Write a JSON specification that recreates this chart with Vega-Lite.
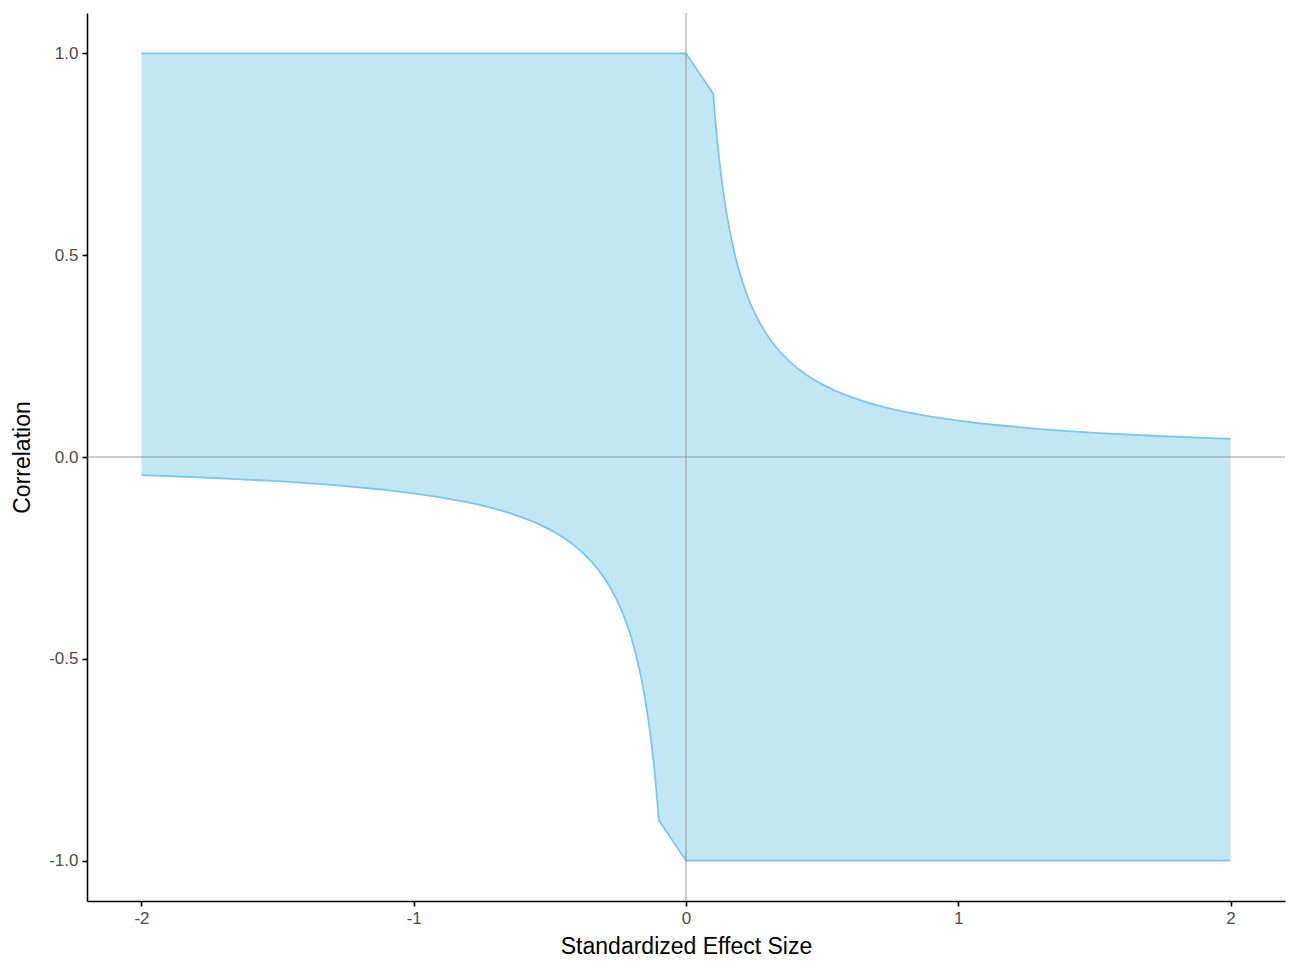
{
  "$schema": "https://vega.github.io/schema/vega-lite/v6.json",
  "background": "white",
  "autosize": {"type": "none"},
  "padding": {"left": 87, "top": 13, "right": 14, "bottom": 73},
  "width": 1198,
  "height": 888,
  "config": {
    "view": {"stroke": null},
    "font": "Liberation Sans",
    "axis": {
      "grid": false,
      "domainColor": "black",
      "domainWidth": 1.6,
      "tickColor": "black",
      "tickWidth": 1.6,
      "tickSize": 5,
      "labelColor": "#4D4D4D",
      "labelFontSize": 17,
      "labelFont": "Liberation Sans",
      "titleColor": "black",
      "titleFontSize": 23,
      "titleFontWeight": "normal",
      "titleFont": "Liberation Sans"
    }
  },
  "datasets": {
    "band": [
      {"x": -2, "lo": -0.045, "hi": 1},
      {"x": -1.75, "lo": -0.0514, "hi": 1},
      {"x": -1.5, "lo": -0.06, "hi": 1},
      {"x": -1.3, "lo": -0.0692, "hi": 1},
      {"x": -1.1, "lo": -0.0818, "hi": 1},
      {"x": -1, "lo": -0.09, "hi": 1},
      {"x": -0.9, "lo": -0.1, "hi": 1},
      {"x": -0.8, "lo": -0.1125, "hi": 1},
      {"x": -0.75, "lo": -0.12, "hi": 1},
      {"x": -0.7, "lo": -0.1286, "hi": 1},
      {"x": -0.65, "lo": -0.1385, "hi": 1},
      {"x": -0.6, "lo": -0.15, "hi": 1},
      {"x": -0.55, "lo": -0.1636, "hi": 1},
      {"x": -0.5, "lo": -0.18, "hi": 1},
      {"x": -0.47, "lo": -0.1915, "hi": 1},
      {"x": -0.44, "lo": -0.2045, "hi": 1},
      {"x": -0.41, "lo": -0.2195, "hi": 1},
      {"x": -0.38, "lo": -0.2368, "hi": 1},
      {"x": -0.35, "lo": -0.2571, "hi": 1},
      {"x": -0.33, "lo": -0.2727, "hi": 1},
      {"x": -0.31, "lo": -0.2903, "hi": 1},
      {"x": -0.29, "lo": -0.3103, "hi": 1},
      {"x": -0.27, "lo": -0.3333, "hi": 1},
      {"x": -0.25, "lo": -0.36, "hi": 1},
      {"x": -0.24, "lo": -0.375, "hi": 1},
      {"x": -0.23, "lo": -0.3913, "hi": 1},
      {"x": -0.22, "lo": -0.4091, "hi": 1},
      {"x": -0.21, "lo": -0.4286, "hi": 1},
      {"x": -0.2, "lo": -0.45, "hi": 1},
      {"x": -0.19, "lo": -0.4737, "hi": 1},
      {"x": -0.18, "lo": -0.5, "hi": 1},
      {"x": -0.17, "lo": -0.5294, "hi": 1},
      {"x": -0.16, "lo": -0.5625, "hi": 1},
      {"x": -0.15, "lo": -0.6, "hi": 1},
      {"x": -0.14, "lo": -0.6429, "hi": 1},
      {"x": -0.13, "lo": -0.6923, "hi": 1},
      {"x": -0.12, "lo": -0.75, "hi": 1},
      {"x": -0.115, "lo": -0.7826, "hi": 1},
      {"x": -0.11, "lo": -0.8182, "hi": 1},
      {"x": -0.105, "lo": -0.8571, "hi": 1},
      {"x": -0.1, "lo": -0.9, "hi": 1},
      {"x": 0, "lo": -1, "hi": 1},
      {"x": 0.1, "lo": -1, "hi": 0.9},
      {"x": 0.105, "lo": -1, "hi": 0.8571},
      {"x": 0.11, "lo": -1, "hi": 0.8182},
      {"x": 0.115, "lo": -1, "hi": 0.7826},
      {"x": 0.12, "lo": -1, "hi": 0.75},
      {"x": 0.13, "lo": -1, "hi": 0.6923},
      {"x": 0.14, "lo": -1, "hi": 0.6429},
      {"x": 0.15, "lo": -1, "hi": 0.6},
      {"x": 0.16, "lo": -1, "hi": 0.5625},
      {"x": 0.17, "lo": -1, "hi": 0.5294},
      {"x": 0.18, "lo": -1, "hi": 0.5},
      {"x": 0.19, "lo": -1, "hi": 0.4737},
      {"x": 0.2, "lo": -1, "hi": 0.45},
      {"x": 0.21, "lo": -1, "hi": 0.4286},
      {"x": 0.22, "lo": -1, "hi": 0.4091},
      {"x": 0.23, "lo": -1, "hi": 0.3913},
      {"x": 0.24, "lo": -1, "hi": 0.375},
      {"x": 0.25, "lo": -1, "hi": 0.36},
      {"x": 0.27, "lo": -1, "hi": 0.3333},
      {"x": 0.29, "lo": -1, "hi": 0.3103},
      {"x": 0.31, "lo": -1, "hi": 0.2903},
      {"x": 0.33, "lo": -1, "hi": 0.2727},
      {"x": 0.35, "lo": -1, "hi": 0.2571},
      {"x": 0.38, "lo": -1, "hi": 0.2368},
      {"x": 0.41, "lo": -1, "hi": 0.2195},
      {"x": 0.44, "lo": -1, "hi": 0.2045},
      {"x": 0.47, "lo": -1, "hi": 0.1915},
      {"x": 0.5, "lo": -1, "hi": 0.18},
      {"x": 0.55, "lo": -1, "hi": 0.1636},
      {"x": 0.6, "lo": -1, "hi": 0.15},
      {"x": 0.65, "lo": -1, "hi": 0.1385},
      {"x": 0.7, "lo": -1, "hi": 0.1286},
      {"x": 0.75, "lo": -1, "hi": 0.12},
      {"x": 0.8, "lo": -1, "hi": 0.1125},
      {"x": 0.9, "lo": -1, "hi": 0.1},
      {"x": 1, "lo": -1, "hi": 0.09},
      {"x": 1.1, "lo": -1, "hi": 0.0818},
      {"x": 1.3, "lo": -1, "hi": 0.0692},
      {"x": 1.5, "lo": -1, "hi": 0.06},
      {"x": 1.75, "lo": -1, "hi": 0.0514},
      {"x": 2, "lo": -1, "hi": 0.045}
    ],
    "zero": [{"v": 0}]
  },
  "layer": [
    {
      "data": {"name": "band"},
      "mark": {"type": "area", "color": "#87CEEB", "opacity": 0.5, "strokeWidth": 0},
      "encoding": {
        "x": {
          "field": "x",
          "type": "quantitative",
          "scale": {"domain": [-2.2, 2.2], "nice": false, "zero": false},
          "axis": {
            "values": [-2, -1, 0, 1, 2],
            "labelExpr": "replace(format(datum.value, 'd'), '\u2212', '-')",
            "title": "Standardized Effect Size",
            "titlePadding": 9,
            "labelPadding": 4
          }
        },
        "y": {
          "field": "hi",
          "type": "quantitative",
          "scale": {"domain": [-1.1, 1.1], "nice": false, "zero": false},
          "axis": {
            "values": [-1, -0.5, 0, 0.5, 1],
            "labelExpr": "replace(format(datum.value, '.1f'), '\u2212', '-')",
            "title": "Correlation",
            "titlePadding": 14,
            "labelPadding": 4
          }
        },
        "y2": {"field": "lo"}
      }
    },
    {
      "data": {"name": "band"},
      "mark": {"type": "line", "color": "#7CC6EC", "strokeWidth": 1.8},
      "encoding": {
        "x": {"field": "x", "type": "quantitative"},
        "y": {"field": "hi", "type": "quantitative"}
      }
    },
    {
      "data": {"name": "band"},
      "mark": {"type": "line", "color": "#7CC6EC", "strokeWidth": 1.8},
      "encoding": {
        "x": {"field": "x", "type": "quantitative"},
        "y": {"field": "lo", "type": "quantitative"}
      }
    },
    {
      "data": {"name": "zero"},
      "mark": {"type": "rule", "color": "#808080", "opacity": 0.4, "strokeWidth": 2},
      "encoding": {"x": {"field": "v", "type": "quantitative"}}
    },
    {
      "data": {"name": "zero"},
      "mark": {"type": "rule", "color": "#808080", "opacity": 0.4, "strokeWidth": 2},
      "encoding": {"y": {"field": "v", "type": "quantitative"}}
    }
  ]
}
